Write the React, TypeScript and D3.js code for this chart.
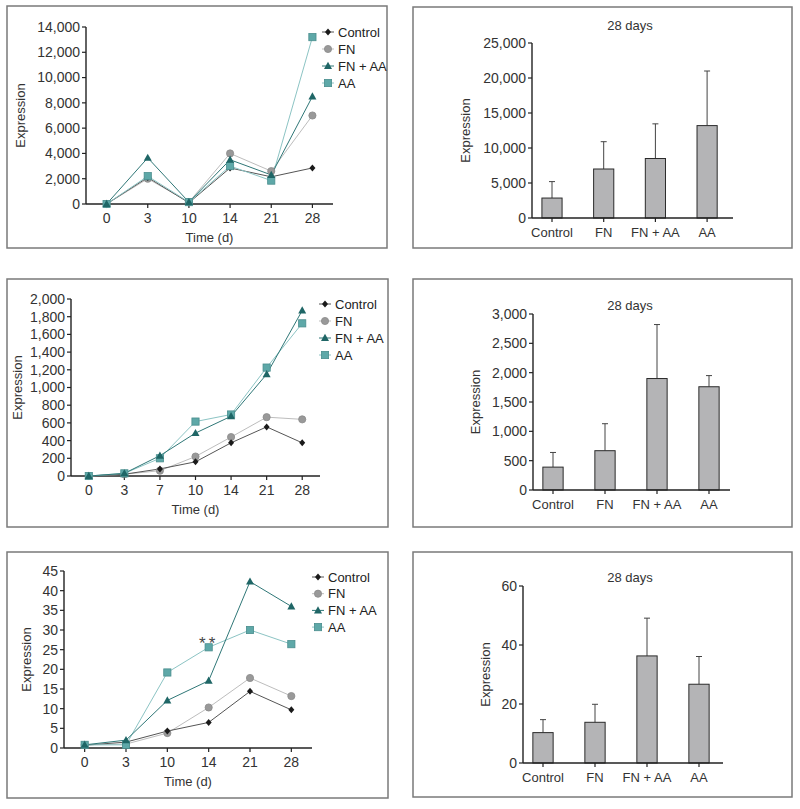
import React from "react";
import * as d3 from "d3";

// ---------- data ----------
const seriesNames = ["Control", "FN", "FN + AA", "AA"];

const days1 = [0, 3, 10, 14, 21, 28];
const p1Control = [0, 2100, 100, 2850, 2150, 2850];
const p1FN = [0, 2000, 150, 4000, 2600, 7000];
const p1FNAA = [0, 3650, 150, 3500, 2300, 8500];
const p1AA = [0, 2200, 150, 3000, 1850, 13200];

const days2 = [0, 3, 7, 10, 14, 21, 28];
const p2Control = [0, 20, 80, 160, 375, 555, 375];
const p2FN = [0, 20, 60, 220, 440, 665, 640];
const p2FNAA = [0, 30, 230, 485, 675, 1150, 1870];
const p2AA = [0, 30, 200, 615, 695, 1225, 1725];

const days3 = [0, 3, 10, 14, 21, 28];
const p3Control = [0.7, 1.5, 4.3, 6.5, 14.4, 9.7];
const p3FN = [0.8, 1.0, 3.8, 10.3, 17.8, 13.2];
const p3FNAA = [0.8, 2.0, 12.1, 17.1, 42.3, 36.0];
const p3AA = [0.8, 0.8, 19.2, 25.6, 30.0, 26.4];

const barCats = ["Control", "FN", "FN + AA", "AA"];
const b1Mean = [2850, 7000, 8500, 13200];
const b1Err = [5200, 10900, 13450, 21000];
const b2Mean = [390, 670, 1900, 1760];
const b2Err = [640, 1130, 2820, 1950];
const b3Mean = [10.3, 13.8, 36.3, 26.7];
const b3Err = [14.7, 19.9, 49.1, 36.1];

const ticks1 = d3.range(0, 14001, 2000);
const ticks2 = d3.range(0, 2001, 200);
const ticks3 = d3.range(0, 46, 5);
const ticksB1 = d3.range(0, 25001, 5000);
const ticksB2 = d3.range(0, 3001, 500);
const ticksB3 = [0, 20, 40, 60];

// ---------- styles ----------
const FONT = "'Liberation Sans', Arial, sans-serif";
const styles = [
  { line: "#555555", fill: "#1a1a1a", stroke: "#1a1a1a", shape: "diamond" },
  { line: "#bdbdbd", fill: "#999999", stroke: "#8a8a8a", shape: "circle" },
  { line: "#2f7777", fill: "#1f6666", stroke: "#1f6666", shape: "triangle" },
  { line: "#8cc4c4", fill: "#5ea8a8", stroke: "#4a8e8e", shape: "square" },
];
const fmt = d3.format(",");

function Marker({ x, y, s }: { x: number; y: number; s: any }) {
  if (s.shape === "diamond")
    return <path d={`M${x},${y - 3.5}L${x + 3},${y}L${x},${y + 3.5}L${x - 3},${y}Z`} fill={s.fill} />;
  if (s.shape === "circle")
    return <circle cx={x} cy={y} r={3.6} fill={s.fill} stroke={s.stroke} strokeWidth={0.8} />;
  if (s.shape === "triangle")
    return <path d={`M${x},${y - 4.2}L${x + 4},${y + 3}L${x - 4},${y + 3}Z`} fill={s.fill} />;
  return <rect x={x - 3.6} y={y - 3.6} width={7.2} height={7.2} fill={s.fill} stroke={s.stroke} strokeWidth={0.8} />;
}

function Frame({ x0, y0, x1, y1 }: any) {
  return <rect x={x0} y={y0} width={x1 - x0} height={y1 - y0} fill="#fff" stroke="#7a7a7a" strokeWidth={1.5} />;
}

function LinePanel(props: any) {
  const { frame, ax, axEnd, y0, yTop, yMax, ticks, days, series, legX, legY, legDy, ylabX, note } = props;
  const x = d3.scalePoint<number>().domain(days).range([ax, axEnd]).padding(0.5);
  const y = d3.scaleLinear().domain([0, yMax]).range([y0, yTop]);
  const line = d3.line<number>().x((_, i) => x(days[i]) as number).y((v) => y(v));
  const order = [1, 0, 3, 2];
  return (
    <g>
      <Frame {...frame} />
      {/* axes */}
      <line x1={ax} x2={ax} y1={y0} y2={yTop} stroke="#222" strokeWidth={1.4} />
      <line x1={ax} x2={axEnd} y1={y0} y2={y0} stroke="#222" strokeWidth={1.4} />
      {ticks.map((t: number) => (
        <g key={t}>
          <line x1={ax - 4} x2={ax} y1={y(t)} y2={y(t)} stroke="#222" strokeWidth={1.2} />
          <text x={ax - 6} y={y(t)} dy="0.35em" textAnchor="end" fontSize={14} fill="#333" fontFamily={FONT}>
            {fmt(t)}
          </text>
        </g>
      ))}
      {days.map((dd: number) => (
        <g key={dd}>
          <line x1={x(dd)} x2={x(dd)} y1={y0} y2={y0 + 4} stroke="#222" strokeWidth={1.2} />
          <text x={x(dd)} y={y0 + 14} dy="0.35em" textAnchor="middle" fontSize={14} fill="#333" fontFamily={FONT}>
            {dd}
          </text>
        </g>
      ))}
      <text x={(ax + axEnd) / 2} y={y0 + 33} dy="0.35em" textAnchor="middle" fontSize={13} fill="#333" fontFamily={FONT}>
        Time (d)
      </text>
      <text
        transform={`translate(${ylabX},${(y0 + yTop) / 2}) rotate(-90)`}
        dy="0.35em"
        textAnchor="middle"
        fontSize={13}
        fill="#333"
        fontFamily={FONT}
      >
        Expression
      </text>
      {/* lines */}
      {order.map((k) => (
        <path key={"l" + k} d={line(series[k]) || ""} fill="none" stroke={styles[k].line} strokeWidth={1} />
      ))}
      {order.map((k) =>
        series[k].map((v: number, i: number) => <Marker key={k + "-" + i} x={x(days[i]) as number} y={y(v)} s={styles[k]} />)
      )}
      {/* legend */}
      {seriesNames.map((n, k) => (
        <g key={n}>
          <line x1={legX - 6} x2={legX + 6} y1={legY + k * legDy} y2={legY + k * legDy} stroke={styles[k].line} strokeWidth={1} />
          <Marker x={legX} y={legY + k * legDy} s={styles[k]} />
          <text x={legX + 10} y={legY + k * legDy} dy="0.35em" fontSize={13} fill="#222" fontFamily={FONT}>
            {n}
          </text>
        </g>
      ))}
      {note && (
        <text x={x(note.day)} y={y(note.v)} textAnchor="middle" fontSize={17} fill="#444" fontFamily={FONT} letterSpacing={3}>
          {note.text}
        </text>
      )}
    </g>
  );
}

function BarPanel(props: any) {
  const { frame, ax, axEnd, y0, yTop, yMax, ticks, means, errs, c0, step, titleY, ylabX } = props;
  const x = d3
    .scaleBand<string>()
    .domain(barCats)
    .range([c0 - step / 2, c0 - step / 2 + 4 * step])
    .paddingInner(0.61)
    .paddingOuter(0.305);
  const y = d3.scaleLinear().domain([0, yMax]).range([y0, yTop]);
  const bw = x.bandwidth();
  return (
    <g>
      <Frame {...frame} />
      <text x={630} y={titleY} dy="0.35em" textAnchor="middle" fontSize={13} fill="#333" fontFamily={FONT}>
        28 days
      </text>
      {barCats.map((c, i) => {
        const cx = (x(c) as number) + bw / 2;
        return (
          <g key={c}>
            <line x1={cx} x2={cx} y1={y(means[i])} y2={y(errs[i])} stroke="#444" strokeWidth={1} />
            <line x1={cx - 3} x2={cx + 3} y1={y(errs[i])} y2={y(errs[i])} stroke="#444" strokeWidth={1} />
            <rect x={x(c)} y={y(means[i])} width={bw} height={y0 - y(means[i])} fill="#b4b4b6" stroke="#2a2a2a" strokeWidth={1} />
            <line x1={cx} x2={cx} y1={y0} y2={y0 + 4} stroke="#222" strokeWidth={1.2} />
            <text x={cx} y={y0 + 14} dy="0.35em" textAnchor="middle" fontSize={13} fill="#333" fontFamily={FONT}>
              {c}
            </text>
          </g>
        );
      })}
      <line x1={ax} x2={ax} y1={y0} y2={yTop} stroke="#222" strokeWidth={1.4} />
      <line x1={ax} x2={axEnd} y1={y0} y2={y0} stroke="#222" strokeWidth={1.4} />
      {ticks.map((t: number) => (
        <g key={t}>
          <line x1={ax - 4} x2={ax} y1={y(t)} y2={y(t)} stroke="#222" strokeWidth={1.2} />
          <text x={ax - 6} y={y(t)} dy="0.35em" textAnchor="end" fontSize={14} fill="#333" fontFamily={FONT}>
            {fmt(t)}
          </text>
        </g>
      ))}
      <text
        transform={`translate(${ylabX},${(y0 + yTop) / 2}) rotate(-90)`}
        dy="0.35em"
        textAnchor="middle"
        fontSize={13}
        fill="#333"
        fontFamily={FONT}
      >
        Expression
      </text>
    </g>
  );
}

export default function App() {
  return (
    <svg width={800} height={809} style={{ position: "absolute", left: 0, top: 0, background: "#fff" }}>
      <rect width={800} height={809} fill="#fff" />
      <LinePanel
        frame={{ x0: 7, y0: 6, x1: 387, y1: 248 }}
        ax={86} axEnd={333} y0={204} yTop={27} yMax={14000} ticks={ticks1}
        days={days1} series={[p1Control, p1FN, p1FNAA, p1AA]}
        legX={328} legY={32} legDy={17} ylabX={20}
      />
      <LinePanel
        frame={{ x0: 7, y0: 279, x1: 388, y1: 527 }}
        ax={71} axEnd={320} y0={476} yTop={299} yMax={2000} ticks={ticks2}
        days={days2} series={[p2Control, p2FN, p2FNAA, p2AA]}
        legX={325} legY={304} legDy={17} ylabX={17}
      />
      <LinePanel
        frame={{ x0: 7, y0: 552, x1: 388, y1: 798 }}
        ax={64} axEnd={312} y0={748} yTop={571} yMax={45} ticks={ticks3}
        days={days3} series={[p3Control, p3FN, p3FNAA, p3AA]}
        legX={318} legY={577} legDy={16.7} ylabX={26}
        note={{ day: 14, v: 25.2, text: "**" }}
      />
      <BarPanel
        frame={{ x0: 413, y0: 7, x1: 792, y1: 248 }}
        ax={532} axEnd={733} y0={218} yTop={43} yMax={25000} ticks={ticksB1}
        means={b1Mean} errs={b1Err} c0={552} step={51.7} titleY={25} ylabX={465}
      />
      <BarPanel
        frame={{ x0: 413, y0: 279, x1: 792, y1: 527 }}
        ax={533} axEnd={730} y0={490} yTop={314} yMax={3000} ticks={ticksB2}
        means={b2Mean} errs={b2Err} c0={553} step={52} titleY={305} ylabX={475}
      />
      <BarPanel
        frame={{ x0: 413, y0: 552, x1: 792, y1: 797 }}
        ax={523} axEnd={723} y0={763} yTop={586} yMax={60} ticks={ticksB3}
        means={b3Mean} errs={b3Err} c0={543} step={52} titleY={577} ylabX={485}
      />
    </svg>
  );
}
